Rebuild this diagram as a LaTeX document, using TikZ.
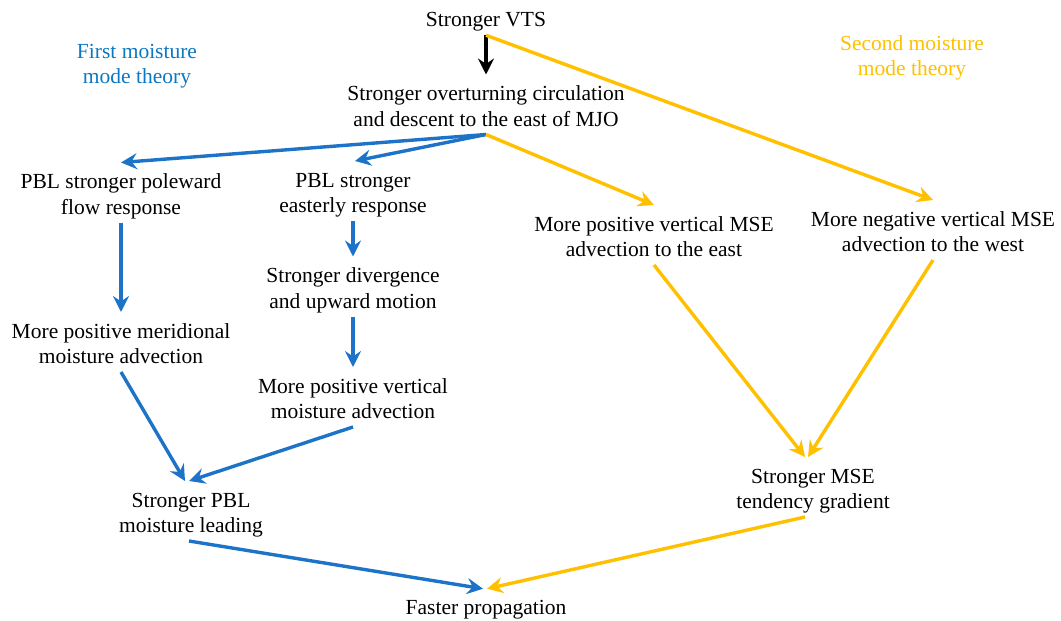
\documentclass[tikz,border=0pt]{standalone}
\usepackage{fontspec}
\setmainfont{Liberation Serif}
\usetikzlibrary{arrows.meta}
\definecolor{mblue}{HTML}{1C73C8}
\definecolor{tblue}{HTML}{0A78C2}
\definecolor{myel}{HTML}{FFC000}
\newcommand\tstr{\rule{0pt}{26pt}}
\newcommand\bstr{\rule[-8.5pt]{0pt}{8.5pt}}
\begin{document}
\begin{tikzpicture}[x=1pt,y=-1pt,
  txt/.style={align=center,inner sep=0pt,outer sep=0pt,font=\fontsize{21.5}{25.5}\selectfont},
  tip/.style={-{Stealth[length=16pt 0,width=16pt 0,inset=5.5pt 0]}},
  barr/.style={draw=mblue,line width=3.4pt,tip},
  yarr/.style={draw=myel,line width=3.4pt,tip},
  karr/.style={draw=black,line width=3.4pt,tip}]
\useasboundingbox (0,0) rectangle (1061,621);
\node[txt] (vts) at (486,18) {\tstr Stronger VTS\bstr};
\node[txt] (circ) at (486,104.5) {\tstr Stronger overturning circulation\\and descent to the east of MJO\bstr};
\node[txt,text=tblue] (first) at (137,62) {\tstr First moisture\\mode theory\bstr};
\node[txt,text=myel] (second) at (912,54) {\tstr Second moisture\\mode theory\bstr};
\node[txt] (pole) at (121,192.5) {\tstr PBL stronger poleward\\flow response\bstr};
\node[txt] (east) at (353,191) {\tstr PBL stronger\\easterly response\bstr};
\node[txt] (emse) at (654,235) {\tstr More positive vertical MSE\\advection to the east\bstr};
\node[txt] (wmse) at (933,230) {\tstr More negative vertical MSE\\advection to the west\bstr};
\node[txt] (div) at (353,286.5) {\tstr Stronger divergence\\and upward motion\bstr};
\node[txt] (mer) at (121,342) {\tstr More positive meridional\\moisture advection\bstr};
\node[txt] (vert) at (353,397) {\tstr More positive vertical\\moisture advection\bstr};
\node[txt] (tend) at (813,487) {\tstr Stronger MSE\\tendency gradient\bstr};
\node[txt] (lead) at (191,511) {\tstr Stronger PBL\\moisture leading\bstr};
\node[txt] (fast) at (486,606) {\tstr Faster propagation\bstr};
\draw[karr] (vts.south) -- (circ.north);
\draw[yarr] (vts.south) -- (wmse.north);
\draw[barr] (circ.south) -- (pole.north);
\draw[barr] (circ.south) -- ([xshift=2pt]east.north);
\draw[yarr] (circ.south) -- (emse.north);
\draw[barr] (pole.south) -- (mer.north);
\draw[barr] (east.south) -- (div.north);
\draw[barr] (div.south) -- (vert.north);
\draw[yarr] (emse.south) -- ([xshift=-8pt]tend.north);
\draw[yarr] (wmse.south) -- ([xshift=-5pt]tend.north);
\draw[barr] (mer.south) -- ([xshift=-6pt]lead.north);
\draw[barr] (vert.south) -- ([xshift=-2pt]lead.north);
\draw[barr] ([xshift=-2pt]lead.south) -- ([xshift=-3pt]fast.north);
\draw[yarr] ([xshift=-8pt]tend.south) -- ([xshift=1pt]fast.north);
\end{tikzpicture}
\end{document}
